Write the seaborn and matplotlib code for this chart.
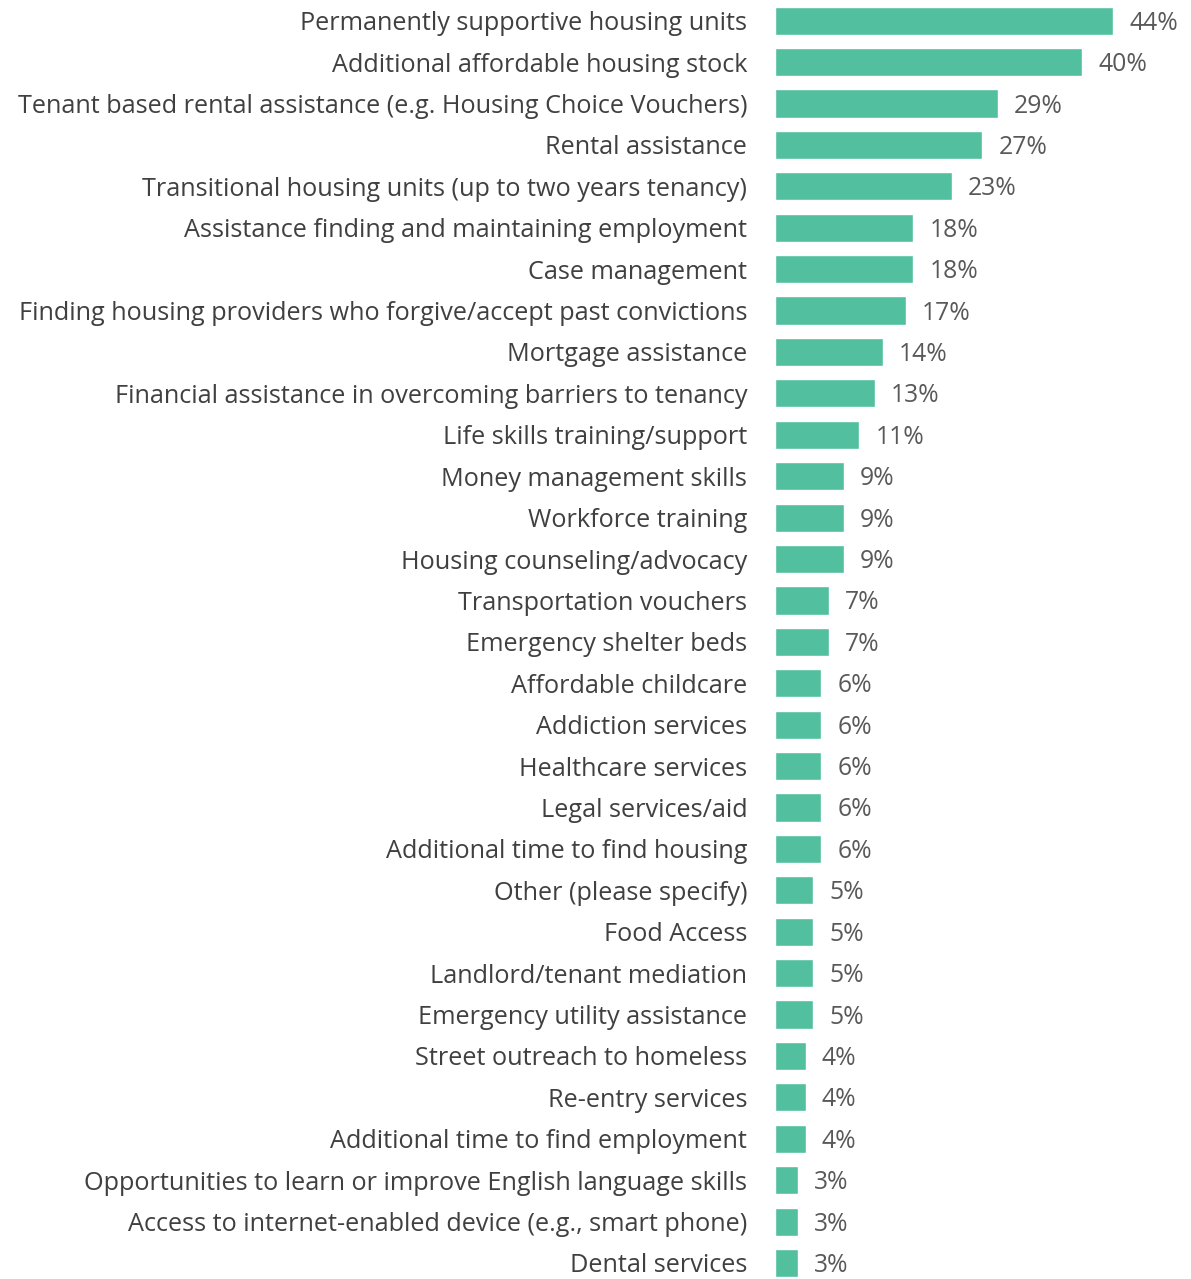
import pandas as pd
import seaborn as sns
from matplotlib import pyplot as plt

categories = [
    'Permanently supportive housing units',
    'Additional affordable housing stock',
    'Tenant based rental assistance (e.g. Housing Choice Vouchers)',
    'Rental assistance',
    'Transitional housing units (up to two years tenancy)',
    'Assistance finding and maintaining employment',
    'Case management',
    'Finding housing providers who forgive/accept past convictions',
    'Mortgage assistance',
    'Financial assistance in overcoming barriers to tenancy',
    'Life skills training/support',
    'Money management skills',
    'Workforce training',
    'Housing counseling/advocacy',
    'Transportation vouchers',
    'Emergency shelter beds',
    'Affordable childcare',
    'Addiction services',
    'Healthcare services',
    'Legal services/aid',
    'Additional time to find housing',
    'Other (please specify)',
    'Food Access',
    'Landlord/tenant mediation',
    'Emergency utility assistance',
    'Street outreach to homeless',
    'Re-entry services',
    'Additional time to find employment',
    'Opportunities to learn or improve English language skills',
    'Access to internet-enabled device (e.g., smart phone)',
    'Dental services',
]
percents = [44, 40, 29, 27, 23, 18, 18, 17, 14, 13, 11, 9, 9, 9, 7, 7,
            6, 6, 6, 6, 6, 5, 5, 5, 5, 4, 4, 4, 3, 3, 3]

df = pd.DataFrame({'Need': categories, 'Percent': percents})

sns.set_style('white')
plt.rcParams['font.family'] = ['Open Sans', 'DejaVu Sans']

W, H = 1191, 1279
fig = plt.figure(figsize=(W / 100, H / 100), dpi=100)
ax = fig.add_axes([775 / W, -4.7 / H, (W - 775) / W, 1283.7 / H])

sns.barplot(data=df, x='Percent', y='Need', orient='h', color='#52BF9E',
            saturation=1, width=0.68, ax=ax)

ax.set_xlim(0, (W - 775) / 7.68)
ax.set_ylim(len(categories) - 0.5, -0.5)

for i, v in enumerate(percents):
    ax.text(v + 2.1, i + 0.06, f'{v}%', va='center', ha='left',
            fontsize=17.8, color='#595959')

ax.set_xlabel('')
ax.set_ylabel('')
ax.set_xticks([])
ax.tick_params(axis='y', length=0, pad=20, labelsize=18.2, labelcolor='#404040')
sns.despine(ax=ax, left=True, bottom=True)

fig.savefig('out.png', dpi=100)
